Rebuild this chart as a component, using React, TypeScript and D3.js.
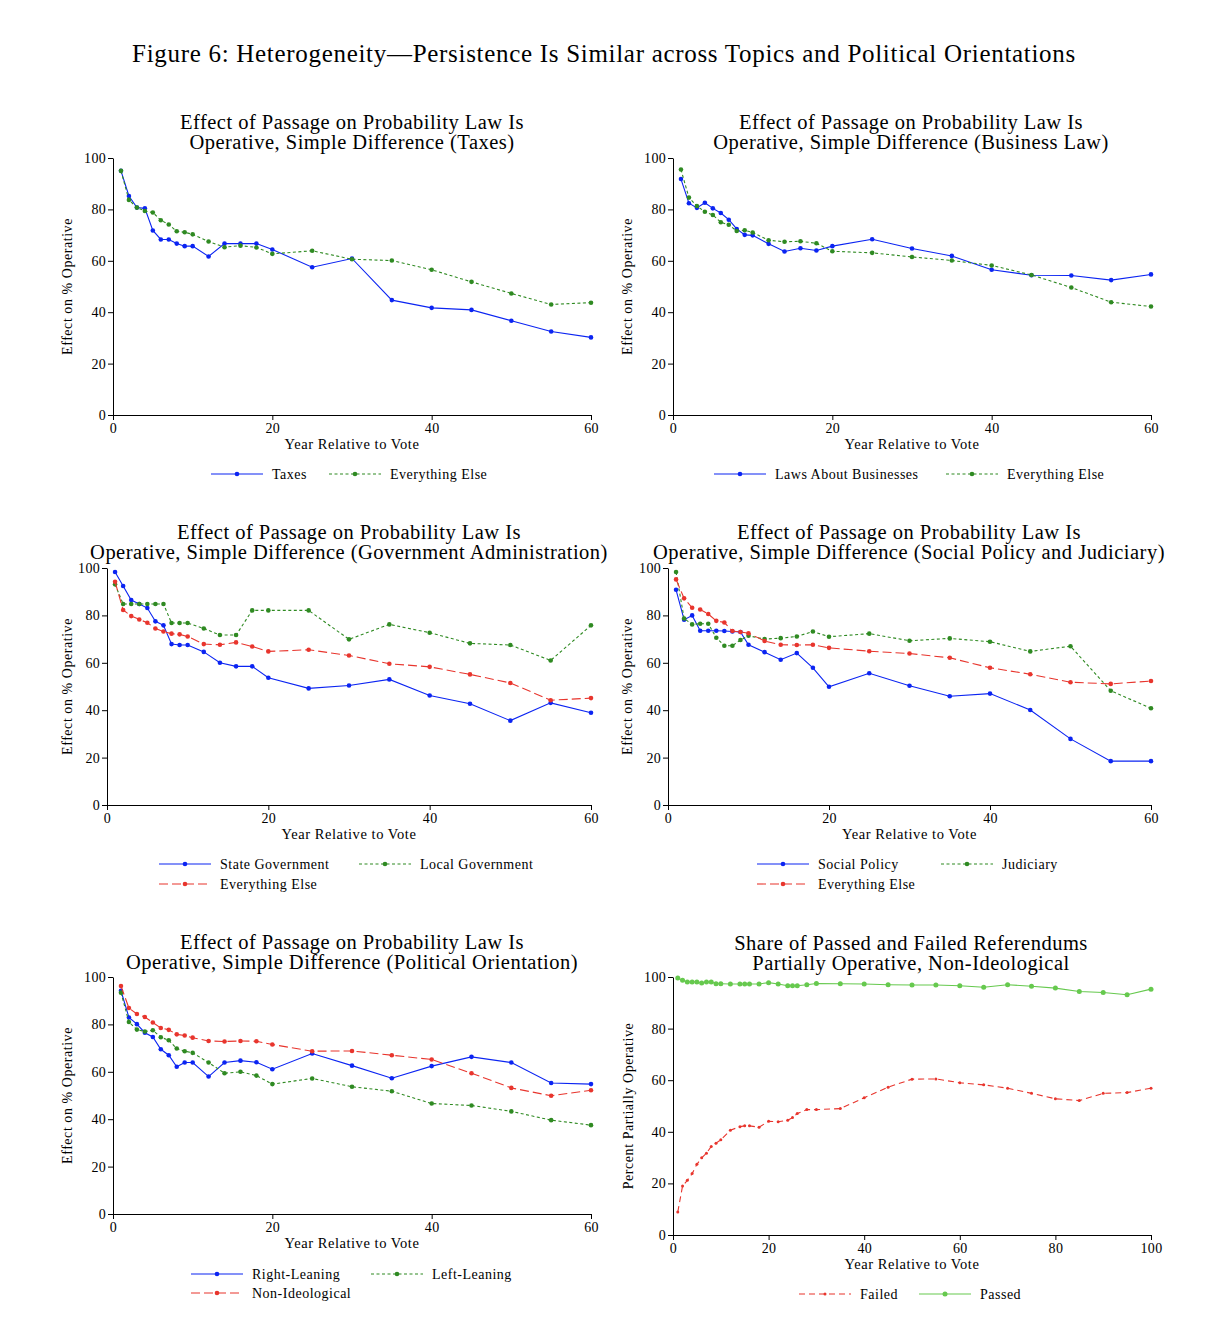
import { useEffect, useRef } from "react";
import * as d3 from "d3";

// years on the x axis
const YEARS = [1, 2, 3, 4, 5, 6, 7, 8, 9, 10, 12, 14, 16, 18, 20, 25, 30, 35, 40, 45, 50, 55, 60];
const YEARS_REF = [
  1, 2, 3, 4, 5, 6, 7, 8, 9, 10, 12, 14, 15, 16, 18, 20, 22, 24, 25, 26, 28, 30, 35, 40, 45, 50, 55,
  60, 65, 70, 75, 80, 85, 90, 95, 100,
];

// panel 1: taxes
const taxes = [95, 85.2, 80.7, 80.4, 71.8, 68.3, 68.3, 66.7, 65.7, 65.7, 61.7, 66.7, 66.7, 66.7, 64.4, 57.5, 60.9, 44.7, 41.7, 40.9, 36.7, 32.5, 30.2];
const taxesElse = [95, 83.7, 80.7, 79.4, 78.8, 75.8, 74.1, 71.5, 71.1, 70.3, 67.5, 65.3, 65.9, 65.2, 62.7, 63.9, 60.6, 60.1, 56.5, 51.8, 47.3, 43.0, 43.7];

// panel 2: business law
const business = [91.8, 82.4, 80.6, 82.6, 80.4, 78.6, 76.0, 72.4, 70.1, 69.9, 66.6, 63.6, 64.9, 64.0, 65.7, 68.4, 64.8, 61.9, 56.5, 54.4, 54.3, 52.5, 54.7];
const businessElse = [95.5, 84.6, 81.3, 79.1, 77.8, 75.0, 74.0, 71.6, 71.9, 71.0, 68.0, 67.4, 67.6, 66.8, 63.7, 63.1, 61.5, 60.1, 58.2, 54.5, 49.6, 43.9, 42.2];

// panel 3: government administration
const stateGov = [98.3, 92.4, 86.5, 84.8, 83.1, 77.5, 75.8, 67.9, 67.5, 67.5, 64.6, 60.0, 58.5, 58.5, 53.7, 49.2, 50.4, 53.0, 46.2, 42.7, 35.6, 43.1, 38.9];
const localGov = [93.1, 84.8, 84.8, 84.8, 84.8, 84.8, 84.8, 76.8, 76.8, 76.8, 74.5, 71.7, 71.7, 82.1, 82.1, 82.1, 69.9, 76.2, 72.7, 68.2, 67.5, 61.0, 75.8];
const govElse = [94.2, 82.3, 79.7, 78.3, 76.9, 74.5, 73.2, 72.3, 72.0, 71.1, 67.9, 67.6, 68.6, 66.9, 64.8, 65.5, 63.1, 59.6, 58.3, 55.1, 51.5, 44.2, 45.1];

// panel 4: social policy and judiciary
const socialPolicy = [90.8, 78.2, 80.0, 73.5, 73.5, 73.5, 73.4, 73.2, 73.0, 67.6, 64.5, 61.3, 64.1, 57.9, 49.9, 55.6, 50.3, 45.9, 47.0, 40.1, 27.9, 18.5, 18.5];
const judiciary = [98.3, 78.7, 76.2, 76.5, 76.5, 70.6, 67.2, 67.2, 69.6, 71.4, 70.0, 70.4, 71.1, 73.2, 71.0, 72.3, 69.3, 70.3, 68.9, 64.8, 67.0, 48.2, 40.8];
const socialElse = [95.2, 87.2, 83.2, 82.5, 80.6, 77.7, 77.0, 73.4, 73.0, 72.5, 69.2, 67.6, 67.5, 67.6, 66.3, 64.9, 63.9, 62.1, 57.9, 55.2, 51.8, 51.1, 52.3];

// panel 5: political orientation
const rightLeaning = [94.2, 82.9, 80.1, 76.5, 74.7, 69.5, 67.0, 62.1, 63.9, 63.9, 58.0, 63.9, 64.7, 64.0, 61.1, 67.7, 62.6, 57.3, 62.4, 66.3, 63.9, 55.3, 54.8];
const leftLeaning = [93.4, 81.0, 77.8, 77.0, 77.5, 74.6, 73.3, 69.8, 68.7, 68.0, 63.9, 59.4, 60.0, 58.4, 54.8, 57.2, 53.7, 51.8, 46.6, 45.8, 43.3, 39.6, 37.5];
const nonIdeological = [96.2, 86.9, 84.4, 83.1, 80.8, 78.5, 77.7, 75.8, 75.3, 74.4, 73.0, 72.8, 73.0, 72.9, 71.5, 68.7, 68.8, 67.0, 65.2, 59.4, 53.2, 49.9, 52.2];

// panel 6: passed vs failed referendums
const failed = [
  8.9, 19.0, 21.2, 23.8, 27.4, 29.9, 31.7, 34.3, 35.6, 36.9, 40.6, 42.0, 42.3, 42.3, 41.8, 44.1, 43.9,
  44.5, 45.5, 47.1, 48.6, 48.6, 49.0, 53.2, 57.3, 60.4, 60.5, 59.0, 58.2, 56.9, 54.9, 52.8, 52.1, 54.9,
  55.2, 56.9,
];
const passed = [
  99.6, 98.7, 98.1, 98.1, 98.1, 97.7, 98.1, 98.1, 97.4, 97.4, 97.3, 97.3, 97.3, 97.3, 97.3, 97.8, 97.3,
  96.6, 96.6, 96.6, 97.0, 97.5, 97.4, 97.3, 97.0, 96.9, 96.9, 96.6, 96.0, 97.0, 96.4, 95.7, 94.4, 94.0,
  93.1, 95.3,
];

const BLUE = "#0b24f2";
const GREEN = "#2f8a22";
const RED = "#e8352d";
const LIGHT_GREEN = "#66c94e";
const FONT = "'Liberation Serif', 'DejaVu Serif', serif";

type Series = {
  name: string;
  years: number[];
  values: number[];
  color: string;
  dash: string | null;
  r: number;
  lx: number;
  ly: number;
};

type Panel = {
  title: string[];
  titleX: number;
  titleY: number;
  x0: number;
  x1: number;
  yTop: number;
  yBot: number;
  xMax: number;
  xTicks: number[];
  yLabel: string;
  yLabelX: number;
  xLabelY: number;
  series: Series[];
};

const panels: Panel[] = [
  {
    title: ["Effect of Passage on Probability Law Is", "Operative, Simple Difference (Taxes)"],
    titleX: 352, titleY: 129, x0: 113, x1: 591, yTop: 158, yBot: 415, xMax: 60,
    xTicks: [0, 20, 40, 60], yLabel: "Effect on % Operative", yLabelX: 72, xLabelY: 449,
    series: [
      { name: "Taxes", years: YEARS, values: taxes, color: BLUE, dash: null, r: 2.3, lx: 211, ly: 474 },
      { name: "Everything Else", years: YEARS, values: taxesElse, color: GREEN, dash: "3,2.5", r: 2.3, lx: 329, ly: 474 },
    ],
  },
  {
    title: ["Effect of Passage on Probability Law Is", "Operative, Simple Difference (Business Law)"],
    titleX: 911, titleY: 129, x0: 673, x1: 1151, yTop: 158, yBot: 415, xMax: 60,
    xTicks: [0, 20, 40, 60], yLabel: "Effect on % Operative", yLabelX: 632, xLabelY: 449,
    series: [
      { name: "Laws About Businesses", years: YEARS, values: business, color: BLUE, dash: null, r: 2.3, lx: 714, ly: 474 },
      { name: "Everything Else", years: YEARS, values: businessElse, color: GREEN, dash: "3,2.5", r: 2.3, lx: 946, ly: 474 },
    ],
  },
  {
    title: ["Effect of Passage on Probability Law Is", "Operative, Simple Difference (Government Administration)"],
    titleX: 349, titleY: 539, x0: 107, x1: 591, yTop: 568, yBot: 805, xMax: 60,
    xTicks: [0, 20, 40, 60], yLabel: "Effect on % Operative", yLabelX: 72, xLabelY: 839,
    series: [
      { name: "State Government", years: YEARS, values: stateGov, color: BLUE, dash: null, r: 2.3, lx: 159, ly: 864 },
      { name: "Local Government", years: YEARS, values: localGov, color: GREEN, dash: "3,2.5", r: 2.3, lx: 359, ly: 864 },
      { name: "Everything Else", years: YEARS, values: govElse, color: RED, dash: "9,4", r: 2.3, lx: 159, ly: 884 },
    ],
  },
  {
    title: ["Effect of Passage on Probability Law Is", "Operative, Simple Difference (Social Policy and Judiciary)"],
    titleX: 909, titleY: 539, x0: 668, x1: 1151, yTop: 568, yBot: 805, xMax: 60,
    xTicks: [0, 20, 40, 60], yLabel: "Effect on % Operative", yLabelX: 632, xLabelY: 839,
    series: [
      { name: "Social Policy", years: YEARS, values: socialPolicy, color: BLUE, dash: null, r: 2.3, lx: 757, ly: 864 },
      { name: "Judiciary", years: YEARS, values: judiciary, color: GREEN, dash: "3,2.5", r: 2.3, lx: 941, ly: 864 },
      { name: "Everything Else", years: YEARS, values: socialElse, color: RED, dash: "9,4", r: 2.3, lx: 757, ly: 884 },
    ],
  },
  {
    title: ["Effect of Passage on Probability Law Is", "Operative, Simple Difference (Political Orientation)"],
    titleX: 352, titleY: 949, x0: 113, x1: 591, yTop: 977, yBot: 1214, xMax: 60,
    xTicks: [0, 20, 40, 60], yLabel: "Effect on % Operative", yLabelX: 72, xLabelY: 1248,
    series: [
      { name: "Right-Leaning", years: YEARS, values: rightLeaning, color: BLUE, dash: null, r: 2.3, lx: 191, ly: 1274 },
      { name: "Left-Leaning", years: YEARS, values: leftLeaning, color: GREEN, dash: "3,2.5", r: 2.3, lx: 371, ly: 1274 },
      { name: "Non-Ideological", years: YEARS, values: nonIdeological, color: RED, dash: "9,4", r: 2.3, lx: 191, ly: 1293 },
    ],
  },
  {
    title: ["Share of Passed and Failed Referendums", "Partially Operative, Non-Ideological"],
    titleX: 911, titleY: 950, x0: 673, x1: 1151, yTop: 977, yBot: 1235, xMax: 100,
    xTicks: [0, 20, 40, 60, 80, 100], yLabel: "Percent Partially Operative", yLabelX: 633, xLabelY: 1269,
    series: [
      { name: "Failed", years: YEARS_REF, values: failed, color: RED, dash: "6,4", r: 1.5, lx: 799, ly: 1294 },
      { name: "Passed", years: YEARS_REF, values: passed, color: LIGHT_GREEN, dash: null, r: 2.5, lx: 919, ly: 1294 },
    ],
  },
];

export default function App() {
  const svgRef = useRef<SVGSVGElement>(null);

  useEffect(() => {
    if (!svgRef.current) return;
    const svg = d3.select(svgRef.current);
    svg.selectAll("*").remove();

    svg
      .append("text")
      .attr("x", 604)
      .attr("y", 62)
      .attr("text-anchor", "middle")
      .attr("font-size", 25)
      .attr("letter-spacing", 0.7)
      .text("Figure 6: Heterogeneity\u2014Persistence Is Similar across Topics and Political Orientations");

    panels.forEach((p) => {
      const g = svg.append("g");
      const x = d3.scaleLinear().domain([0, p.xMax]).range([p.x0, p.x1]);
      const y = d3.scaleLinear().domain([0, 100]).range([p.yBot, p.yTop]);

      const t = g
        .append("text")
        .attr("x", p.titleX)
        .attr("y", p.titleY)
        .attr("text-anchor", "middle")
        .attr("font-size", 20.5)
        .attr("letter-spacing", 0.48);
      p.title.forEach((line, i) => {
        t.append("tspan").attr("x", p.titleX).attr("dy", i === 0 ? 0 : 20).text(line);
      });

      const xAxis = g
        .append("g")
        .attr("transform", "translate(0," + p.yBot + ")")
        .call(d3.axisBottom(x).tickValues(p.xTicks).tickSize(5).tickSizeOuter(0).tickFormat(d3.format("d")));
      const yAxis = g
        .append("g")
        .attr("transform", "translate(" + p.x0 + ",0)")
        .call(d3.axisLeft(y).tickValues([0, 20, 40, 60, 80, 100]).tickSize(5).tickSizeOuter(0).tickFormat(d3.format("d")));
      [xAxis, yAxis].forEach((a) => {
        a.attr("font-family", FONT).attr("font-size", 14);
        a.selectAll("path, line").attr("stroke", "#000").attr("stroke-width", 1);
        a.selectAll("text").attr("fill", "#000").attr("letter-spacing", 0.3);
      });
      yAxis.selectAll("text").attr("x", -7);
      xAxis.selectAll("text").attr("y", 8);

      g.append("text")
        .attr("x", (p.x0 + p.x1) / 2)
        .attr("y", p.xLabelY)
        .attr("text-anchor", "middle")
        .attr("font-size", 14.5)
        .attr("letter-spacing", 0.55)
        .text("Year Relative to Vote");

      g.append("text")
        .attr("transform", "translate(" + p.yLabelX + "," + (p.yTop + p.yBot) / 2 + ") rotate(-90)")
        .attr("text-anchor", "middle")
        .attr("font-size", 14)
        .attr("letter-spacing", 0.55)
        .text(p.yLabel);

      p.series.forEach((s) => {
        const pts = s.years.map((yr, i) => [yr, s.values[i]] as [number, number]);
        const line = d3
          .line<[number, number]>()
          .x((d) => x(d[0]))
          .y((d) => y(d[1]));
        g.append("path")
          .attr("d", line(pts))
          .attr("fill", "none")
          .attr("stroke", s.color)
          .attr("stroke-width", 1.1)
          .attr("stroke-dasharray", s.dash);
        g.append("g")
          .selectAll("circle")
          .data(pts)
          .join("circle")
          .attr("cx", (d) => x(d[0]))
          .attr("cy", (d) => y(d[1]))
          .attr("r", s.r)
          .attr("fill", s.color);

        // legend entry
        const lg = g.append("g");
        lg.append("line")
          .attr("x1", s.lx)
          .attr("x2", s.lx + 52)
          .attr("y1", s.ly)
          .attr("y2", s.ly)
          .attr("stroke", s.color)
          .attr("stroke-width", 1.1)
          .attr("stroke-dasharray", s.dash);
        lg.append("circle").attr("cx", s.lx + 26).attr("cy", s.ly).attr("r", s.r).attr("fill", s.color);
        lg.append("text")
          .attr("x", s.lx + 61)
          .attr("y", s.ly + 4.5)
          .attr("font-size", 14)
          .attr("letter-spacing", 0.5)
          .text(s.name);
      });
    });
  }, []);

  return (
    <div style={{ position: "absolute", left: 0, top: 0 }}>
      <svg ref={svgRef} width={1218} height={1332} fontFamily={FONT} style={{ display: "block", background: "#fff" }} />
    </div>
  );
}
